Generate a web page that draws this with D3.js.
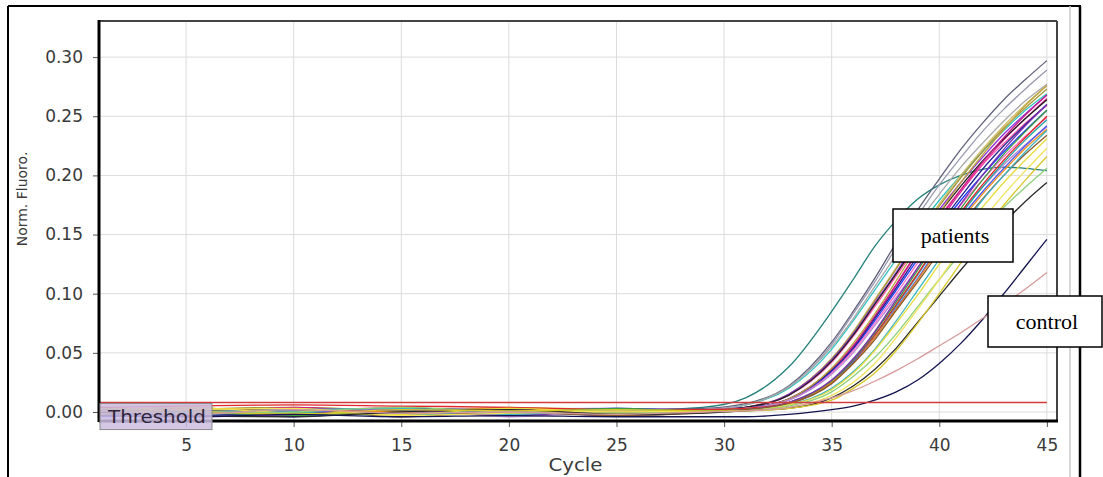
<!DOCTYPE html>
<html>
<head>
<meta charset="utf-8">
<script src="https://cdn.jsdelivr.net/npm/d3@7/dist/d3.min.js"></script>
<style>
  body { margin: 0; background: #fff; }
  svg { display: block; }
</style>
</head>
<body>
<div id="chart"></div>
<script>
const cycles = [1, 5, 10, 15, 20, 25, 29, 31, 33, 35, 36, 37, 38, 39, 40, 41, 42, 43, 44, 45];

const xTicks = [5, 10, 15, 20, 25, 30, 35, 40, 45];
const yTicks = [0, 0.05, 0.10, 0.15, 0.20, 0.25, 0.30];

const thresholdValue = 0.008;

const patientColors = [
  "#23807a", "#5f5f7a", "#9898b0", "#2fc4c4", "#a8a8a8", "#d2bd66", "#a3963a",
  "#e0239b", "#ff4fa8", "#8a2be2", "#222222", "#c81e86", "#1f3cff", "#ff6ec7",
  "#23238f", "#bda23e", "#b988d0", "#1ea5a5", "#e02828", "#4a55f0", "#3e9a3e",
  "#f08a1c", "#7a2fb0", "#8b5a2b", "#3bb3c4", "#e6dc3c", "#8ccf7a", "#f2e35a",
  "#2a2a2a", "#d8c82a"
];

const patientValues = [
  [0.003,-0.002,0.001,-0.003,0.002,0.001, 0.004,0.012,0.038,0.085,0.112,0.140,0.162,0.180,0.192,0.200,0.205,0.207,0.206,0.204],
  [0.001,0.003,-0.001,0.002,-0.002,0.002, 0.003,0.007,0.022,0.059,0.085,0.113,0.143,0.171,0.197,0.222,0.244,0.264,0.281,0.297],
  [-0.002,0.001,0.003,0.000,0.002,-0.001, 0.002,0.006,0.021,0.057,0.083,0.110,0.139,0.166,0.192,0.215,0.237,0.256,0.273,0.289],
  [0.002,-0.003,0.000,0.002,-0.001,0.001, 0.001,0.006,0.020,0.053,0.077,0.103,0.129,0.155,0.179,0.200,0.220,0.238,0.255,0.269],
  [0.000,0.002,-0.002,0.001,0.003,-0.002, 0.001,0.006,0.021,0.055,0.079,0.106,0.133,0.160,0.184,0.207,0.227,0.246,0.263,0.277],
  [0.004,0.001,0.002,-0.002,0.000,0.002, 0.002,0.004,0.015,0.045,0.068,0.095,0.122,0.150,0.176,0.200,0.222,0.242,0.260,0.276],
  [-0.001,0.002,0.004,0.001,-0.002,0.000, 0.001,0.004,0.015,0.045,0.067,0.094,0.121,0.149,0.174,0.198,0.220,0.240,0.257,0.273],
  [0.002,0.000,-0.003,0.003,0.001,-0.002, 0.001,0.003,0.011,0.036,0.055,0.080,0.107,0.135,0.161,0.186,0.209,0.230,0.248,0.265],
  [-0.003,0.002,0.001,0.004,-0.001,0.001, 0.001,0.004,0.014,0.042,0.064,0.089,0.115,0.141,0.165,0.188,0.209,0.227,0.244,0.259],
  [0.001,-0.001,0.003,-0.002,0.002,0.003, 0.002,0.004,0.015,0.044,0.066,0.092,0.118,0.146,0.171,0.194,0.215,0.235,0.252,0.268],
  [0.000,0.004,-0.001,0.001,-0.003,0.002, 0.001,0.004,0.014,0.043,0.065,0.091,0.117,0.143,0.168,0.191,0.212,0.231,0.248,0.264],
  [0.002,-0.002,0.004,0.000,0.003,-0.001, 0.001,0.003,0.011,0.036,0.056,0.081,0.108,0.136,0.163,0.188,0.211,0.232,0.251,0.268],
  [-0.001,0.001,-0.004,0.002,0.000,0.003, 0.001,0.003,0.010,0.034,0.053,0.077,0.103,0.129,0.155,0.179,0.200,0.220,0.238,0.255],
  [0.003,0.000,0.002,-0.001,-0.002,0.001, 0.001,0.003,0.010,0.033,0.052,0.075,0.100,0.126,0.152,0.175,0.196,0.216,0.233,0.249],
  [-0.002,-0.003,0.000,0.003,0.001,-0.003, 0.000,0.003,0.011,0.035,0.054,0.079,0.105,0.132,0.158,0.182,0.205,0.225,0.243,0.260],
  [0.001,0.002,-0.002,-0.001,0.004,0.002, 0.002,0.003,0.011,0.037,0.058,0.083,0.111,0.140,0.168,0.194,0.217,0.239,0.259,0.276],
  [0.000,-0.001,0.001,0.002,-0.004,0.000, 0.000,0.003,0.010,0.032,0.050,0.073,0.097,0.122,0.147,0.169,0.190,0.209,0.226,0.241],
  [0.002,0.003,0.000,-0.003,0.001,-0.002, 0.000,0.002,0.008,0.026,0.043,0.065,0.090,0.116,0.143,0.167,0.190,0.211,0.230,0.247],
  [0.004,0.005,0.006,0.005,0.004,0.002, 0.002,0.003,0.008,0.026,0.043,0.065,0.091,0.117,0.144,0.169,0.192,0.213,0.232,0.250],
  [-0.004,-0.002,0.001,-0.001,0.002,0.000, 0.000,0.002,0.007,0.025,0.042,0.063,0.088,0.113,0.140,0.164,0.186,0.206,0.225,0.242],
  [0.001,0.000,-0.003,0.001,-0.001,0.003, 0.001,0.002,0.008,0.026,0.044,0.067,0.093,0.120,0.147,0.172,0.196,0.218,0.237,0.255],
  [-0.001,0.003,0.002,0.000,0.003,-0.001, 0.000,0.002,0.007,0.025,0.041,0.063,0.087,0.112,0.138,0.162,0.184,0.204,0.223,0.239],
  [0.002,-0.004,-0.002,0.002,-0.003,0.001, 0.000,0.002,0.008,0.027,0.045,0.068,0.095,0.122,0.150,0.176,0.200,0.222,0.242,0.260],
  [0.000,0.001,0.003,-0.004,0.000,-0.003, -0.001,0.002,0.007,0.024,0.041,0.061,0.086,0.110,0.135,0.158,0.180,0.200,0.218,0.234],
  [-0.003,0.000,0.002,0.003,-0.002,0.002, 0.000,0.001,0.006,0.020,0.034,0.053,0.077,0.103,0.129,0.155,0.179,0.200,0.220,0.238],
  [0.001,0.004,-0.001,-0.002,0.003,0.000, 0.000,0.001,0.006,0.019,0.033,0.052,0.075,0.099,0.125,0.150,0.173,0.194,0.213,0.231],
  [0.002,-0.001,0.000,0.004,0.000,-0.001, 0.000,0.001,0.005,0.017,0.030,0.046,0.066,0.089,0.112,0.134,0.154,0.173,0.190,0.206],
  [-0.002,0.002,0.003,-0.003,-0.001,0.001, 0.000,0.001,0.004,0.014,0.025,0.041,0.063,0.087,0.112,0.138,0.162,0.184,0.204,0.223],
  [0.000,-0.003,-0.004,0.000,0.002,-0.002, -0.001,0.001,0.003,0.012,0.022,0.036,0.054,0.076,0.098,0.120,0.141,0.160,0.178,0.194],
  [0.003,0.001,-0.002,0.002,0.001,0.002, 0.001,0.001,0.003,0.010,0.020,0.033,0.052,0.075,0.100,0.126,0.152,0.175,0.196,0.216]
];

const controlColors = ["#141450", "#d69a9a"];
const controlValues = [
  [-0.003,-0.004,-0.002,-0.004,-0.003,-0.004, -0.004,-0.004,-0.002,0.002,0.005,0.010,0.017,0.027,0.041,0.058,0.078,0.100,0.123,0.146],
  [0.001,-0.002,0.002,-0.001,0.000,-0.002, 0.000,0.001,0.004,0.012,0.018,0.026,0.035,0.045,0.056,0.067,0.079,0.091,0.104,0.118]
];

// page layout
const W = 1103, H = 477;
const plot = { left: 100, right: 1057, top: 21, bottom: 421 };
const sans = "DejaVu Sans, Verdana, sans-serif";
const serif = "Liberation Serif, Times New Roman, serif";

const svg = d3.select("#chart").append("svg")
  .attr("width", W)
  .attr("height", H)
  .attr("viewBox", `0 0 ${W} ${H}`);

const x = d3.scaleLinear().domain([1, 45.47]).range([plot.left, plot.right]);
const y = d3.scaleLinear().domain([-0.0076, 0.3305]).range([plot.bottom, plot.top]);

// outer frame of the figure
svg.append("line").attr("x1", 8).attr("x2", 1081).attr("y1", 6).attr("y2", 6)
  .attr("stroke", "#000").attr("stroke-width", 2);
svg.append("line").attr("x1", 8).attr("x2", 8).attr("y1", 6).attr("y2", H)
  .attr("stroke", "#000").attr("stroke-width", 2);
svg.append("line").attr("x1", 1070).attr("x2", 1070).attr("y1", 6).attr("y2", H)
  .attr("stroke", "#c8c8c8").attr("stroke-width", 1.5);
svg.append("line").attr("x1", 1080).attr("x2", 1080).attr("y1", 6).attr("y2", H)
  .attr("stroke", "#000").attr("stroke-width", 2.5);

// grid
const grid = svg.append("g").attr("class", "grid");
grid.selectAll(".vgrid")
  .data(xTicks)
  .enter()
  .append("line")
  .attr("x1", d => x(d)).attr("x2", d => x(d))
  .attr("y1", plot.top).attr("y2", plot.bottom)
  .attr("stroke", "#dcdcdc").attr("stroke-width", 1);
grid.selectAll(".hgrid")
  .data(yTicks)
  .enter()
  .append("line")
  .attr("x1", plot.left).attr("x2", plot.right)
  .attr("y1", d => y(d)).attr("y2", d => y(d))
  .attr("stroke", "#dcdcdc").attr("stroke-width", 1);

// amplification curves
const line = d3.line()
  .x((d, i) => x(cycles[i]))
  .y(d => y(d))
  .curve(d3.curveMonotoneX);

const runs = patientValues.map((v, i) => ({ values: v, color: patientColors[i] }))
  .concat(controlValues.map((v, i) => ({ values: v, color: controlColors[i] })));

svg.append("g").attr("class", "curves")
  .selectAll("path")
  .data(runs)
  .enter()
  .append("path")
  .attr("d", d => line(d.values))
  .attr("fill", "none")
  .attr("stroke", d => d.color)
  .attr("stroke-width", 1.3);

// threshold
svg.append("line")
  .attr("x1", x(1)).attr("x2", x(45))
  .attr("y1", y(thresholdValue)).attr("y2", y(thresholdValue))
  .attr("stroke", "#d23c3c").attr("stroke-width", 1.5);

// axes
const xAxis = svg.append("g")
  .attr("transform", `translate(0,${plot.bottom})`)
  .call(d3.axisBottom(x).tickValues(xTicks).tickSize(6).tickFormat(d3.format("d")));
const yAxis = svg.append("g")
  .attr("transform", `translate(${plot.left - 1},0)`)
  .call(d3.axisLeft(y).tickValues(yTicks).tickSize(6).tickFormat(d3.format(".2f")));

[xAxis, yAxis].forEach(a => {
  a.select(".domain").remove();
  a.selectAll(".tick line").attr("stroke", "#555");
  a.selectAll(".tick text")
    .attr("fill", "#3a3a3a")
    .style("font-family", sans)
    .style("font-size", "17px");
});
xAxis.selectAll(".tick text").attr("y", 18);
yAxis.selectAll(".tick text").attr("x", -16);

// plot frame
svg.append("line").attr("x1", plot.left - 1).attr("x2", plot.right).attr("y1", plot.top).attr("y2", plot.top)
  .attr("stroke", "#444").attr("stroke-width", 2);
svg.append("line").attr("x1", plot.right).attr("x2", plot.right).attr("y1", plot.top).attr("y2", plot.bottom)
  .attr("stroke", "#444").attr("stroke-width", 2);
svg.append("line").attr("x1", plot.left - 1).attr("x2", plot.left - 1).attr("y1", plot.top - 1).attr("y2", plot.bottom + 1)
  .attr("stroke", "#000").attr("stroke-width", 3);
svg.append("line").attr("x1", plot.left - 1).attr("x2", plot.right + 1).attr("y1", plot.bottom).attr("y2", plot.bottom)
  .attr("stroke", "#000").attr("stroke-width", 3);

// axis titles
svg.append("text")
  .attr("x", (plot.left + plot.right) / 2 - 3)
  .attr("y", 471)
  .attr("text-anchor", "middle")
  .attr("fill", "#3a3a3a")
  .attr("textLength", 54)
  .attr("lengthAdjust", "spacingAndGlyphs")
  .style("font-family", sans)
  .style("font-size", "18px")
  .text("Cycle");

svg.append("text")
  .attr("transform", "translate(27,199) rotate(-90)")
  .attr("text-anchor", "middle")
  .attr("fill", "#3a3a3a")
  .style("font-family", sans)
  .style("font-size", "14px")
  .text("Norm. Fluoro.");

// threshold label
const th = svg.append("g");
th.append("rect")
  .attr("x", plot.left).attr("y", y(thresholdValue) + 1)
  .attr("width", 112).attr("height", 26)
  .attr("fill", "#cdbde2").attr("fill-opacity", 0.85)
  .attr("stroke", "#8a8a8a").attr("stroke-width", 1);
th.append("text")
  .attr("x", plot.left + 8).attr("y", y(thresholdValue) + 20)
  .attr("fill", "#2e2438")
  .attr("textLength", 98)
  .attr("lengthAdjust", "spacingAndGlyphs")
  .style("font-family", sans)
  .style("font-size", "18px")
  .text("Threshold");

// annotation boxes
const notes = [
  { label: "patients", x: 893, y: 209, w: 120, h: 53 },
  { label: "control", x: 988, y: 296, w: 114, h: 51 }
];
const note = svg.selectAll(".note")
  .data(notes)
  .enter()
  .append("g")
  .attr("class", "note");
note.append("rect")
  .attr("x", d => d.x).attr("y", d => d.y)
  .attr("width", d => d.w).attr("height", d => d.h)
  .attr("fill", "#fff").attr("stroke", "#000").attr("stroke-width", 1.5);
note.append("text")
  .attr("x", d => d.x + d.w / 2 + 2)
  .attr("y", d => d.y + d.h / 2 + 7)
  .attr("text-anchor", "middle")
  .attr("fill", "#000")
  .style("font-family", serif)
  .style("font-size", "22px")
  .text(d => d.label);
</script>
</body>
</html>
